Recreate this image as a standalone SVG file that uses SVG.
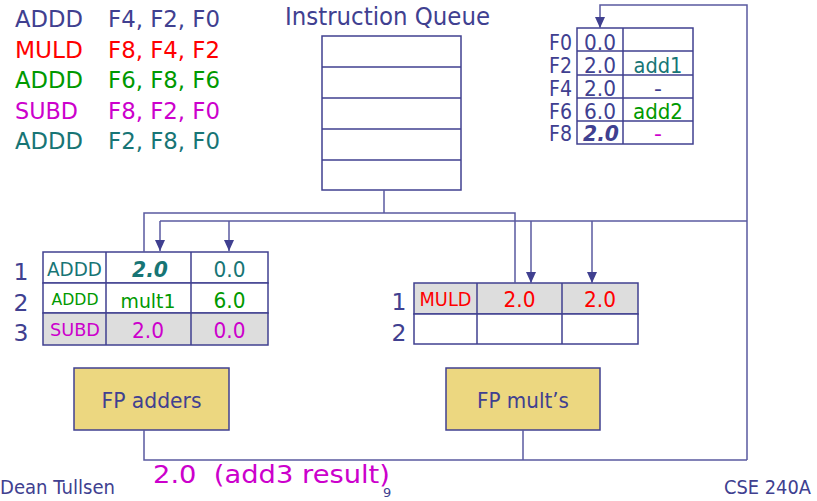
<svg xmlns="http://www.w3.org/2000/svg" width="817" height="501" viewBox="0 0 817 501">
<defs>
<marker id="ah" markerUnits="userSpaceOnUse" markerWidth="12" markerHeight="12" viewBox="0 0 12 12" refX="11" refY="6" orient="auto">
<path d="M0,1 L11,6 L0,11 Z" fill="#404090"/>
</marker>
<style>
text{font-family:"DejaVu Sans","Liberation Sans",sans-serif}
.b{fill:#404090}.r{fill:#ff0000}.g{fill:#009900}.m{fill:#cc00cc}.t{fill:#177575}
.c{text-anchor:middle}
.cell{fill:#ffffff;stroke:#404090;stroke-width:1.5}
.gray{fill:#dddddd;stroke:#404090;stroke-width:1.5}
.ln{fill:none;stroke:#404090;stroke-width:1.5}
.wire{fill:none;stroke:#5a5aa0;stroke-width:1.5}
.fu{fill:#ecd780;stroke:#404090;stroke-width:1.5}
.bi{font-weight:bold;font-style:italic}
</style>
</defs>
<rect width="817" height="501" fill="#ffffff"/>

<g id="program" font-size="23.5">
<text x="15" y="27" class="b" textLength="68" lengthAdjust="spacingAndGlyphs">ADDD</text><text x="108" y="27" class="b" textLength="112" lengthAdjust="spacingAndGlyphs">F4, F2, F0</text>
<text x="15" y="58" class="r" textLength="68" lengthAdjust="spacingAndGlyphs">MULD</text><text x="108" y="58" class="r" textLength="112" lengthAdjust="spacingAndGlyphs">F8, F4, F2</text>
<text x="15" y="88" class="g" textLength="68" lengthAdjust="spacingAndGlyphs">ADDD</text><text x="108" y="88" class="g" textLength="112" lengthAdjust="spacingAndGlyphs">F6, F8, F6</text>
<text x="15" y="119" class="m" textLength="63" lengthAdjust="spacingAndGlyphs">SUBD</text><text x="108" y="119" class="m" textLength="112" lengthAdjust="spacingAndGlyphs">F8, F2, F0</text>
<text x="15" y="149" class="t" textLength="68" lengthAdjust="spacingAndGlyphs">ADDD</text><text x="108" y="149" class="t" textLength="112" lengthAdjust="spacingAndGlyphs">F2, F8, F0</text>
</g>

<g id="instruction-queue">
<text x="285" y="25" font-size="24" class="b" textLength="205" lengthAdjust="spacingAndGlyphs">Instruction Queue</text>
<rect x="322" y="36" width="139" height="154" class="cell"/>
<path d="M322,67 H461 M322,98 H461 M322,129 H461 M322,160 H461" class="ln"/>
</g>

<g id="register-file">
<rect x="577" y="28" width="116" height="116" class="cell"/>
<path d="M623,28 V144 M577,51 H693 M577,75 H693 M577,98 H693 M577,121 H693" class="ln"/>
<g font-size="22" class="b" text-anchor="end">
<text x="572" y="50" textLength="23" lengthAdjust="spacingAndGlyphs">F0</text>
<text x="572" y="73" textLength="23" lengthAdjust="spacingAndGlyphs">F2</text>
<text x="572" y="96" textLength="23" lengthAdjust="spacingAndGlyphs">F4</text>
<text x="572" y="119" textLength="23" lengthAdjust="spacingAndGlyphs">F6</text>
<text x="572" y="141" textLength="23" lengthAdjust="spacingAndGlyphs">F8</text>
</g>
<g font-size="22" class="c">
<text x="600" y="50" class="b" textLength="32" lengthAdjust="spacingAndGlyphs">0.0</text>
<text x="600" y="73" class="b" textLength="32" lengthAdjust="spacingAndGlyphs">2.0</text>
<text x="600" y="96" class="b" textLength="32" lengthAdjust="spacingAndGlyphs">2.0</text>
<text x="600" y="119" class="b" textLength="32" lengthAdjust="spacingAndGlyphs">6.0</text>
<text x="601" y="141" class="b bi" textLength="36" lengthAdjust="spacingAndGlyphs">2.0</text>
<text x="658" y="73" class="t" textLength="49" lengthAdjust="spacingAndGlyphs">add1</text>
<text x="658" y="96" class="b">-</text>
<text x="658" y="119" class="g" textLength="50" lengthAdjust="spacingAndGlyphs">add2</text>
<text x="658" y="141" class="m">-</text>
</g>
</g>

<g id="add-reservation-stations">
<rect x="43" y="252" width="225" height="31" class="cell"/>
<rect x="43" y="283" width="225" height="30" class="cell"/>
<rect x="43" y="313" width="225" height="32" class="gray"/>
<path d="M106,252 V345 M191,252 V345" class="ln"/>
<g font-size="23.5" class="b c">
<text x="21" y="280">1</text>
<text x="21" y="311">2</text>
<text x="21" y="341">3</text>
</g>
<text x="74.5" y="276" font-size="19" class="t c" textLength="55" lengthAdjust="spacingAndGlyphs">ADDD</text>
<text x="150" y="277" font-size="21" class="t c bi" textLength="36" lengthAdjust="spacingAndGlyphs">2.0</text>
<text x="229.5" y="277" font-size="21" class="t c" textLength="32" lengthAdjust="spacingAndGlyphs">0.0</text>
<text x="75" y="305" font-size="16.5" class="g c" textLength="47" lengthAdjust="spacingAndGlyphs">ADDD</text>
<text x="148" y="308" font-size="20" class="g c" textLength="55" lengthAdjust="spacingAndGlyphs">mult1</text>
<text x="229.5" y="308" font-size="21" class="g c" textLength="32" lengthAdjust="spacingAndGlyphs">6.0</text>
<text x="75" y="336" font-size="18.5" class="m c" textLength="50" lengthAdjust="spacingAndGlyphs">SUBD</text>
<text x="148" y="338" font-size="21" class="m c" textLength="32" lengthAdjust="spacingAndGlyphs">2.0</text>
<text x="229.5" y="338" font-size="21" class="m c" textLength="32" lengthAdjust="spacingAndGlyphs">0.0</text>
</g>

<g id="mult-reservation-stations">
<rect x="414" y="283" width="224" height="31" class="gray"/>
<rect x="414" y="314" width="224" height="30" class="cell"/>
<path d="M477,283 V344 M562,283 V344" class="ln"/>
<g font-size="23.5" class="b c">
<text x="399" y="310">1</text>
<text x="399" y="341">2</text>
</g>
<text x="445.5" y="306" font-size="19" class="r c" textLength="52" lengthAdjust="spacingAndGlyphs">MULD</text>
<text x="519.5" y="307" font-size="21" class="r c" textLength="32" lengthAdjust="spacingAndGlyphs">2.0</text>
<text x="600" y="307" font-size="21" class="r c" textLength="32" lengthAdjust="spacingAndGlyphs">2.0</text>
</g>

<g id="fp-adders">
<rect x="74" y="368" width="155" height="62" class="fu"/>
<text x="151.5" y="408" font-size="22" class="b c" textLength="100" lengthAdjust="spacingAndGlyphs">FP adders</text>
</g>

<g id="fp-mults">
<rect x="446" y="368" width="154" height="62" class="fu"/>
<text x="523" y="408" font-size="22" class="b c" textLength="92" lengthAdjust="spacingAndGlyphs">FP mult’s</text>
</g>

<g id="connectors">
<path d="M384,190 V213" class="wire"/>
<path d="M144,252 V213 H515 V283" class="wire"/>
<path d="M160,221 H747" class="wire"/>
<path d="M747,460 V5 H600 V28" class="wire" marker-end="url(#ah)"/>
<path d="M160,221 V251" class="wire" marker-end="url(#ah)"/>
<path d="M229,221 V251" class="wire" marker-end="url(#ah)"/>
<path d="M531,221 V283" class="wire" marker-end="url(#ah)"/>
<path d="M592,221 V283" class="wire" marker-end="url(#ah)"/>
<path d="M144,430 V460 H747" class="wire"/>
<path d="M523,430 V460" class="wire"/>
</g>

<g id="footer">
<text x="153" y="483" font-size="25" class="m" textLength="237" lengthAdjust="spacingAndGlyphs" xml:space="preserve">2.0  (add3 result)</text>
<text x="0" y="494" font-size="19.5" class="b" textLength="115" lengthAdjust="spacingAndGlyphs">Dean Tullsen</text>
<text x="383" y="497" font-size="13" class="b">9</text>
<text x="811" y="494" font-size="19.5" class="b" text-anchor="end" textLength="87" lengthAdjust="spacingAndGlyphs">CSE 240A</text>
</g>
</svg>
